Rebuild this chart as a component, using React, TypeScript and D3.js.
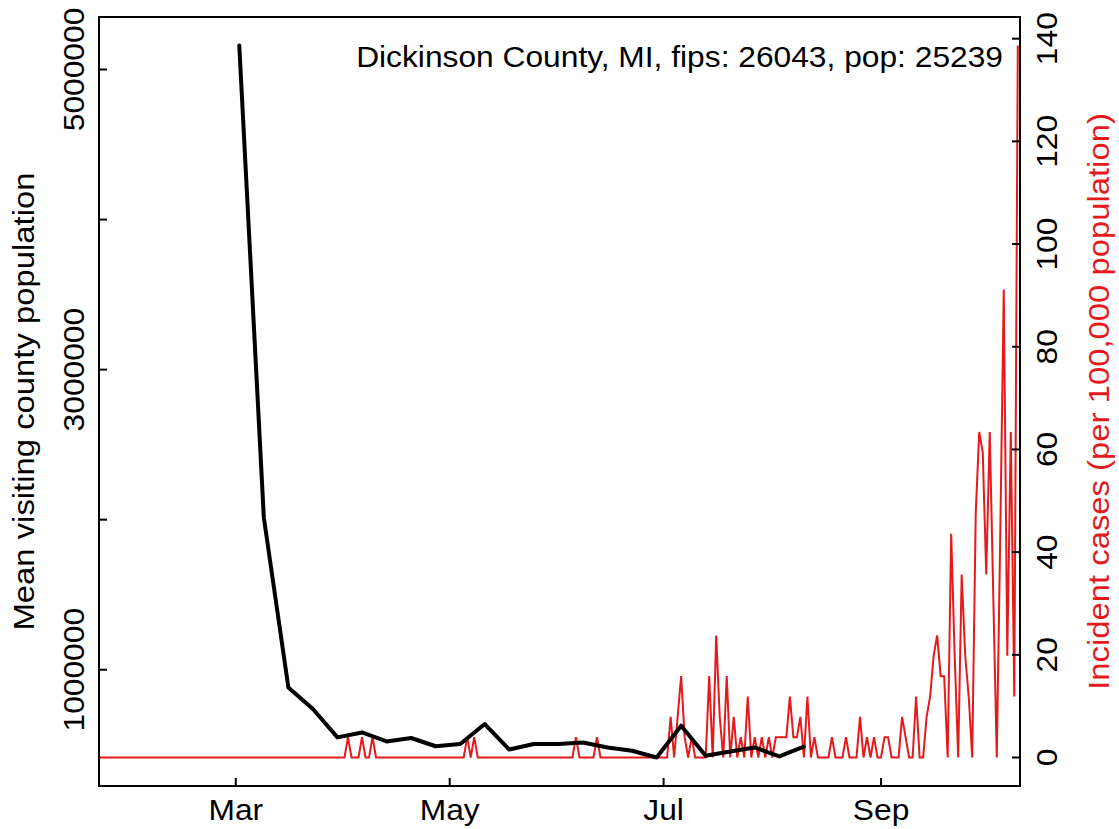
import React from "react";
import * as d3 from "d3";

const W = 1119;
const H = 829;

const countyLabel = "Dickinson County, MI, fips: 26043, pop: 25239";
const population = 25239;
const leftTitle = "Mean visiting county population";
const rightTitle = "Incident cases (per 100,000 population)";

// daily incident case counts, starting 2020-01-22
const caseStart = new Date(2020, 0, 22);
const casesJan = [0, 0, 0, 0, 0, 0, 0, 0, 0, 0];
const casesFeb = [0, 0, 0, 0, 0, 0, 0, 0, 0, 0, 0, 0, 0, 0, 0, 0, 0, 0, 0, 0, 0, 0, 0, 0, 0, 0, 0, 0, 0];
const casesMar = [0, 0, 0, 0, 0, 0, 0, 0, 0, 0, 0, 0, 0, 0, 0, 0, 0, 0, 0, 0, 0, 0, 0, 0, 0, 0, 0, 0, 0, 0, 0];
const casesApr = [0, 1, 0, 0, 0, 1, 0, 0, 1, 0, 0, 0, 0, 0, 0, 0, 0, 0, 0, 0, 0, 0, 0, 0, 0, 0, 0, 0, 0, 0];
const casesMay = [0, 0, 0, 0, 0, 1, 0, 1, 0, 0, 0, 0, 0, 0, 0, 0, 0, 0, 0, 0, 0, 0, 0, 0, 0, 0, 0, 0, 0, 0, 0];
const casesJun = [0, 0, 0, 0, 0, 1, 0, 0, 0, 0, 0, 1, 0, 0, 0, 0, 0, 0, 0, 0, 0, 0, 0, 0, 0, 0, 0, 0, 0, 0];
const casesJul = [0, 0, 2, 0, 2, 4, 1, 0, 1, 0, 0, 0, 0, 4, 0, 6, 2, 0, 4, 0, 2, 0, 1, 0, 3, 0, 1, 0, 1, 0, 1];
const casesAug = [0, 1, 1, 1, 1, 3, 1, 1, 2, 0, 3, 0, 1, 0, 0, 0, 0, 1, 0, 0, 0, 1, 0, 0, 0, 2, 0, 1, 0, 1, 0];
const casesSep = [0, 1, 1, 0, 0, 0, 2, 1, 0, 0, 3, 0, 0, 2, 3, 5, 6, 4, 4, 0, 11, 5, 0, 9, 5, 3, 0, 12, 16, 15];
const casesOct = [9, 16, 8, 0, 11, 23, 5, 16, 3, 35];

// weekly mean visiting county population
const visitDates = [
  "2020-03-02", "2020-03-09", "2020-03-16", "2020-03-23", "2020-03-30",
  "2020-04-06", "2020-04-13", "2020-04-20", "2020-04-27", "2020-05-04",
  "2020-05-11", "2020-05-18", "2020-05-25", "2020-06-01", "2020-06-08",
  "2020-06-15", "2020-06-22", "2020-06-29", "2020-07-06", "2020-07-13",
  "2020-07-20", "2020-07-27", "2020-08-03", "2020-08-10",
];
const visitValues = [
  5160000, 2015000, 882000, 738000, 549000,
  582000, 522000, 545000, 490000, 505000,
  638000, 468000, 505000, 505000, 515000,
  482000, 460000, 415000, 627000, 427000,
  455000, 482000, 422000, 487000,
];

const monthTickDates = ["2020-03-01", "2020-05-01", "2020-07-01", "2020-09-01"];
const monthTickLabels = ["Mar", "May", "Jul", "Sep"];
const leftTicks = [1000000, 2000000, 3000000, 4000000, 5000000];
const leftTickLabels = ["1000000", "", "3000000", "", "5000000"];
const rightTicks = [0, 20, 40, 60, 80, 100, 120, 140];

const parse = d3.timeParse("%Y-%m-%d");

export default function App() {
  const left = 99, right = 1020, top = 17, bottom = 786;
  const font = "'Liberation Sans', Arial, Helvetica, sans-serif";
  const fs = 29;
  const fsTitle = 30;
  const sx = 1.095; // horizontal stretch of glyphs
  const red = "#E41A1C";

  const allCases = [
    ...casesJan, ...casesFeb, ...casesMar, ...casesApr, ...casesMay,
    ...casesJun, ...casesJul, ...casesAug, ...casesSep, ...casesOct,
  ];
  const incidence = allCases.map((c, i) => ({
    date: d3.timeDay.offset(caseStart, i),
    value: (c / population) * 100000,
  }));
  const lastDate = incidence[incidence.length - 1].date;

  const x = d3
    .scaleTime()
    .domain([caseStart, d3.timeHour.offset(lastDate, 15)])
    .range([left, right]);

  const visits = visitDates.map((d, i) => ({ date: parse(d)!, value: visitValues[i] }));
  const [vMin, vMax] = d3.extent(visitValues) as [number, number];
  const vPad = (vMax - vMin) * 0.04;
  const yL = d3.scaleLinear().domain([vMin - vPad, vMax + vPad]).range([bottom, top]);

  const iMax = d3.max(incidence, (d) => d.value)!;
  const yR = d3.scaleLinear().domain([-0.04 * iMax, iMax * 1.04]).range([bottom, top]);

  const redLine = d3
    .line<{ date: Date; value: number }>()
    .x((d) => x(d.date))
    .y((d) => yR(d.value));
  const blackLine = d3
    .line<{ date: Date; value: number }>()
    .x((d) => x(d.date))
    .y((d) => yL(d.value));

  const tickLen = 8;
  const midY = (top + bottom) / 2;

  const hText = (xx: number, yy: number) => `translate(${xx}, ${yy}) scale(${sx}, 1)`;
  const vText = (xx: number, yy: number) => `translate(${xx}, ${yy}) rotate(-90) scale(${sx}, 1)`;

  return (
    <svg
      width={W}
      height={H}
      style={{ position: "absolute", left: 0, top: 0, background: "#fff" }}
      fontFamily={font}
    >
      <rect x={0} y={0} width={W} height={H} fill="#fff" />
      <defs>
        <clipPath id="plotclip">
          <rect x={left} y={top} width={right - left} height={bottom - top} />
        </clipPath>
      </defs>
      <g clipPath="url(#plotclip)">
        <path d={redLine(incidence)!} fill="none" stroke={red} strokeWidth={2} strokeLinejoin="miter" />
        <path d={blackLine(visits)!} fill="none" stroke="#000" strokeWidth={4} strokeLinejoin="round" strokeLinecap="round" />
      </g>
      <rect x={left} y={top} width={right - left} height={bottom - top} fill="none" stroke="#000" strokeWidth={2} />

      {/* x axis */}
      {monthTickDates.map((d, i) => {
        const xx = x(parse(d)!);
        return (
          <g key={d}>
            <line x1={xx} x2={xx} y1={bottom} y2={bottom - tickLen} stroke="#000" strokeWidth={2} />
            <text transform={hText(xx, 820)} textAnchor="middle" fontSize={fs} fill="#000">
              {monthTickLabels[i]}
            </text>
          </g>
        );
      })}

      {/* left axis */}
      {leftTicks.map((v, i) => {
        const yy = yL(v);
        return (
          <g key={v}>
            <line x1={left} x2={left + tickLen} y1={yy} y2={yy} stroke="#000" strokeWidth={2} />
            {leftTickLabels[i] && (
              <text transform={vText(84, yy)} textAnchor="middle" fontSize={fs} fill="#000">
                {leftTickLabels[i]}
              </text>
            )}
          </g>
        );
      })}
      <text transform={vText(34, midY)} textAnchor="middle" fontSize={fsTitle} fill="#000">
        {leftTitle}
      </text>

      {/* right axis */}
      {rightTicks.map((v) => {
        const yy = yR(v);
        return (
          <g key={v}>
            <line x1={right} x2={right - tickLen} y1={yy} y2={yy} stroke="#000" strokeWidth={2} />
            <text transform={vText(1057, yy)} textAnchor="middle" fontSize={fs} fill="#000">
              {v}
            </text>
          </g>
        );
      })}
      <text transform={vText(1109, midY)} textAnchor="middle" fontSize={fsTitle} fill={red}>
        {rightTitle}
      </text>

      <text transform={hText(1003, 67)} textAnchor="end" fontSize={fs} fill="#000">
        {countyLabel}
      </text>
    </svg>
  );
}
